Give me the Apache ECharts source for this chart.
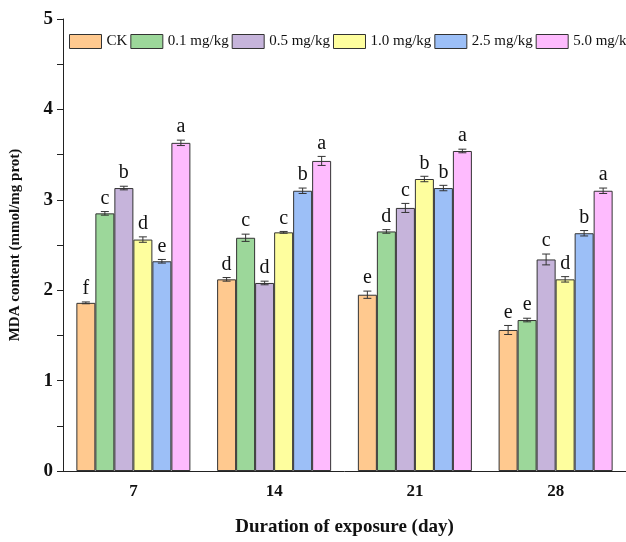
<!DOCTYPE html>
<html>
<head>
    <meta charset="UTF-8">
    <title>MDA content</title>
    <script src="https://cdn.jsdelivr.net/npm/echarts@6/dist/echarts.min.js"></script>
</head>
<body style="margin:0">
<div id="chart" style="width: 626px;height:542px;"></div>
<script>
    // 数据
    var days = ['7', '14', '21', '28'];
    var groups = ['CK', '0.1 mg/kg', '0.5 mg/kg', '1.0 mg/kg', '2.5 mg/kg', '5.0 mg/kg'];
    var colors = ['#FFC98F', '#9CD79A', '#C6B4DB', '#FEFE9E', '#9CBFF7', '#FEBBFE'];

    var ck    = [1.86, 2.12, 1.95, 1.56];
    var d01   = [2.85, 2.58, 2.65, 1.67];
    var d05   = [3.13, 2.08, 2.91, 2.34];
    var d10   = [2.56, 2.64, 3.23, 2.12];
    var d25   = [2.32, 3.10, 3.13, 2.63];
    var d50   = [3.63, 3.43, 3.54, 3.10];

    var ckErr  = [0.01, 0.02, 0.04, 0.05];
    var d01Err = [0.02, 0.04, 0.02, 0.02];
    var d05Err = [0.02, 0.02, 0.05, 0.06];
    var d10Err = [0.03, 0.01, 0.03, 0.03];
    var d25Err = [0.02, 0.03, 0.03, 0.03];
    var d50Err = [0.03, 0.05, 0.02, 0.03];

    var ckSig  = ['f', 'd', 'e', 'e'];
    var d01Sig = ['c', 'c', 'd', 'e'];
    var d05Sig = ['b', 'd', 'c', 'c'];
    var d10Sig = ['d', 'c', 'b', 'd'];
    var d25Sig = ['e', 'b', 'b', 'b'];
    var d50Sig = ['a', 'a', 'a', 'a'];

    var values = [ck, d01, d05, d10, d25, d50];
    var errors = [ckErr, d01Err, d05Err, d10Err, d25Err, d50Err];
    var letters = [ckSig, d01Sig, d05Sig, d10Sig, d25Sig, d50Sig];

    var font = '"Times New Roman", "Liberation Serif", serif';
    var catGap = 0.19;

    var chart = echarts.init(document.getElementById('chart'));

    var series = [];
    groups.forEach(function (name, i) {
        series.push({
            name: name,
            type: 'bar',
            data: values[i],
            barGap: '0%',
            barCategoryGap: '19%',
            itemStyle: {color: colors[i], borderColor: '#333', borderWidth: 1},
            z: 2
        });
    });
    // 误差线和显著性字母
    groups.forEach(function (name, i) {
        series.push({
            type: 'custom',
            data: values[i].map(function (v, j) { return [j, v, errors[i][j]]; }),
            z: 5,
            silent: true,
            renderItem: function (params, api) {
                var x = api.value(0), v = api.value(1), e = api.value(2);
                var band = api.size([1, 0])[0];
                var bw = band * (1 - catGap) / 6;
                var c = api.coord([x, v]);
                var cx = c[0] + (i - 2.5) * bw;
                var top = api.coord([x, v + e])[1];
                var bot = api.coord([x, v - e])[1];
                var hw = 4;
                var st = {stroke: '#333', lineWidth: 1};
                return {
                    type: 'group',
                    children: [
                        {type: 'line', shape: {x1: cx, y1: top, x2: cx, y2: bot}, style: st},
                        {type: 'line', shape: {x1: cx - hw, y1: top, x2: cx + hw, y2: top}, style: st},
                        {type: 'line', shape: {x1: cx - hw, y1: bot, x2: cx + hw, y2: bot}, style: st},
                        {type: 'text', x: cx, y: top - 3, style: {
                            text: letters[i][params.dataIndex], fill: '#111',
                            font: '20px ' + font, align: 'center', verticalAlign: 'bottom'
                        }}
                    ]
                };
            }
        });
    });

    chart.setOption({
        animation: false,
        textStyle: {fontFamily: font},
        legend: {
            data: groups,
            left: 69,
            top: 34,
            width: 700,
            padding: 0,
            itemWidth: 32,
            itemHeight: 14,
            itemGap: 3,
            icon: 'rect',
            itemStyle: {borderColor: '#333', borderWidth: 1},
            textStyle: {fontSize: 15, fontFamily: font, color: '#111'}
        },
        grid: {left: 63, right: -5, top: 19, bottom: 66},
        xAxis: {
            type: 'category',
            data: days,
            axisTick: {show: false},
            axisLine: {lineStyle: {color: '#222', width: 1}},
            axisLabel: {fontSize: 17, fontWeight: 'bold', color: '#111', margin: 12, fontFamily: font},
            name: 'Duration of exposure (day)',
            nameLocation: 'middle',
            nameGap: 47,
            nameTextStyle: {fontSize: 19, fontWeight: 'bold', color: '#111', fontFamily: font}
        },
        yAxis: {
            type: 'value',
            min: 0,
            max: 5,
            interval: 1,
            splitLine: {show: false},
            axisLine: {show: true, lineStyle: {color: '#222', width: 1}},
            axisTick: {show: true, length: 6, lineStyle: {color: '#222'}},
            minorTick: {show: true, splitNumber: 2, length: 6, lineStyle: {color: '#222'}},
            axisLabel: {fontSize: 19, fontWeight: 'bold', color: '#111', margin: 10, fontFamily: font},
            name: 'MDA content (mmol/mg prot)',
            nameLocation: 'middle',
            nameGap: 40,
            nameTextStyle: {fontSize: 15, fontWeight: 'bold', color: '#111', fontFamily: font}
        },
        series: series
    });
</script>
</body>
</html>
